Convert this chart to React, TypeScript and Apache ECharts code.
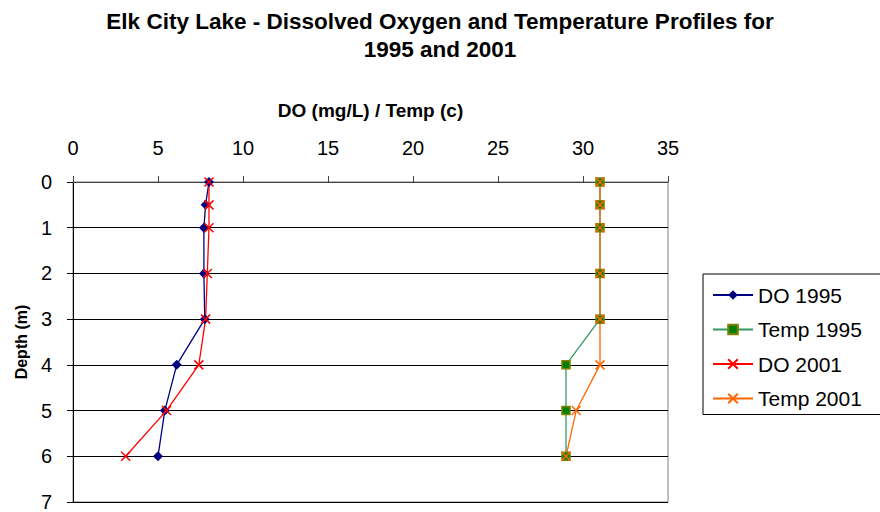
import React, { useEffect, useRef } from "react";
import * as echarts from "echarts";

const depths = [0, 0.5, 1, 2, 3, 4, 5, 6];
const do1995 = [8.0, 7.8, 7.7, 7.7, 7.75, 6.1, 5.4, 5.0];
const temp1995 = [31, 31, 31, 31, 31, 29, 29, 29];
const do2001 = [8.0, 8.0, 8.0, 7.9, 7.8, 7.4, 5.5, 3.1];
const temp2001 = [31, 31, 31, 31, 31, 31, 29.6, 29];
const xTicks = { min: 0, max: 35, interval: 5 };
const yTicks = { min: 0, max: 7, interval: 1 };

const FONT = "'Liberation Sans', Arial, sans-serif";
const X_PATH = "path://M0,0L10,10M10,0L0,10";

export default function App() {
  const ref = useRef<HTMLDivElement>(null);
  useEffect(() => {
    if (!ref.current) return;
    const chart = echarts.init(ref.current, undefined, { renderer: "svg" });
    const pairs = (vals: number[]) => depths.map((d, i) => [vals[i], d]);
    chart.setOption({
      animation: false,
      backgroundColor: "#ffffff",
      textStyle: { fontFamily: FONT },
      title: {
        text: "Elk City Lake - Dissolved Oxygen and Temperature Profiles for\n1995 and 2001",
        left: "center",
        top: 2,
        textStyle: { fontFamily: FONT, fontSize: 22.5, fontWeight: "bold", color: "#000", lineHeight: 28 },
      },
      grid: {
        left: 73,
        top: 182,
        width: 595,
        height: 324,
        show: true,
        borderColor: "#808080",
        borderWidth: 1,
        backgroundColor: "transparent",
      },
      legend: {
        orient: "vertical",
        left: 703,
        top: 274,
        padding: [10, 20, 5, 9],
        itemWidth: 40,
        itemHeight: 12,
        itemGap: 12.5,
        itemTextGap: 6,
        borderColor: "#000",
        borderWidth: 1,
        textStyle: { fontFamily: FONT, fontSize: 21, color: "#000", lineHeight: 22 },
        data: ["DO 1995", "Temp 1995", "DO 2001", "Temp 2001"],
      },
      xAxis: {
        type: "value",
        position: "top",
        min: xTicks.min,
        max: xTicks.max,
        interval: xTicks.interval,
        name: "DO (mg/L) / Temp (c)",
        nameLocation: "middle",
        nameGap: 62,
        nameTextStyle: { fontFamily: FONT, fontSize: 19, fontWeight: "bold", color: "#000" },
        axisLine: { show: true, lineStyle: { color: "#404040", width: 1 } },
        axisTick: { show: true, length: 6, lineStyle: { color: "#404040" } },
        axisLabel: { fontFamily: FONT, fontSize: 20, color: "#000", margin: 24 },
        splitLine: { show: false },
      },
      yAxis: {
        type: "value",
        inverse: true,
        min: yTicks.min,
        max: yTicks.max,
        interval: yTicks.interval,
        name: "Depth (m)",
        nameLocation: "middle",
        nameGap: 40,
        nameRotate: 90,
        nameTextStyle: { fontFamily: FONT, fontSize: 16, fontWeight: "bold", color: "#000" },
        axisLine: { show: true, lineStyle: { color: "#000", width: 1 } },
        axisTick: { show: true, length: 6, lineStyle: { color: "#000" } },
        axisLabel: { fontFamily: FONT, fontSize: 20, color: "#000", margin: 21 },
        splitLine: { show: true, lineStyle: { color: "#000", width: 1 } },
      },
      series: [
        {
          name: "DO 1995",
          type: "line",
          data: pairs(do1995),
          symbol: "diamond",
          symbolSize: 10,
          color: "#000080",
          lineStyle: { color: "#000080", width: 1.3 },
          itemStyle: { color: "#000080" },
        },
        {
          name: "Temp 1995",
          type: "line",
          data: pairs(temp1995),
          symbol: "rect",
          symbolSize: 8,
          color: "#339966",
          lineStyle: { color: "#339966", width: 1.3 },
          itemStyle: { color: "#008000", borderColor: "#808000", borderWidth: 1.5 },
        },
        {
          name: "DO 2001",
          type: "line",
          data: pairs(do2001),
          symbol: X_PATH,
          symbolSize: 9,
          color: "#ff0000",
          lineStyle: { color: "#ff0000", width: 1.3 },
          itemStyle: { color: "#ff0000", borderColor: "#ff0000", borderWidth: 1.5 },
        },
        {
          name: "Temp 2001",
          type: "line",
          data: pairs(temp2001),
          symbol: X_PATH,
          symbolSize: 9,
          color: "#ff6600",
          lineStyle: { color: "#ff6600", width: 1.3 },
          itemStyle: { color: "#ff6600", borderColor: "#ff6600", borderWidth: 1.5 },
        },
      ],
    });
    return () => chart.dispose();
  }, []);
  return <div ref={ref} style={{ width: 880, height: 512, position: "absolute", left: 0, top: 0 }} />;
}
